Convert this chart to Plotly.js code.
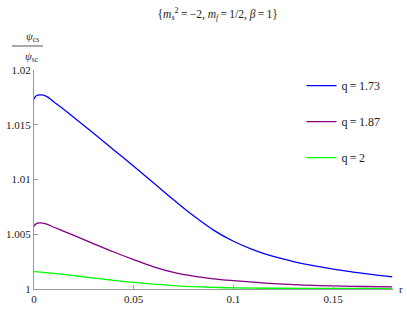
<!DOCTYPE html>
<html>
<head>
<meta charset="utf-8">
<script src="https://cdn.plot.ly/plotly-3.0.1.min.js"></script>
<style>html,body{margin:0;padding:0;background:#fff;}#chart{width:407px;height:311px;}</style>
</head>
<body>
<div id="chart"></div>
<script>
// r values and ratios
const rBlue   = [0, 0.001, 0.003, 0.006, 0.01, 0.015, 0.02, 0.03, 0.04, 0.05, 0.06, 0.07, 0.08, 0.09, 0.1, 0.11, 0.12, 0.13, 0.14, 0.15, 0.16, 0.17, 0.1796];
const vBlue   = [1.01733, 1.01762, 1.01772, 1.01762, 1.01708, 1.0164, 1.01567, 1.0142, 1.0127, 1.0112, 1.00968, 1.00815, 1.00668, 1.00538, 1.00436, 1.00358, 1.00297, 1.00251, 1.00213, 1.00181, 1.00155, 1.00131, 1.00111];
const rPurple = [0, 0.001, 0.003, 0.006, 0.01, 0.015, 0.02, 0.03, 0.04, 0.05, 0.06, 0.07, 0.08, 0.09, 0.1, 0.11, 0.12, 0.13, 0.14, 0.15, 0.165, 0.1796];
const vPurple = [1.00572, 1.00595, 1.00603, 1.00594, 1.00564, 1.00527, 1.00489, 1.00413, 1.00338, 1.00268, 1.00203, 1.00152, 1.00117, 1.00093, 1.00076, 1.00062, 1.0005, 1.0004, 1.00033, 1.00028, 1.00023, 1.0002];
const rGreen  = [0, 0.01, 0.02, 0.03, 0.04, 0.05, 0.06, 0.07, 0.08, 0.09, 0.1, 0.12, 0.15, 0.1796];
const vGreen  = [1.00159, 1.00142, 1.00122, 1.001, 1.00079, 1.0006, 1.00044, 1.00031, 1.00021, 1.00015, 1.0001, 1.00007, 1.00005, 1.00004];
const seriesNames = ["q\u2009=\u20091.73", "q\u2009=\u20091.87", "q\u2009=\u20092"];
const xTickVals = [0, 0.05, 0.1, 0.15];
const xTickText = ["0", "0.05", "0.1", "0.15"];
const yTickVals = [1, 1.005, 1.01, 1.015, 1.02];
const yTickText = ["1", "1.005", "1.01", "1.015", "1.02"];

const serif = "Liberation Serif";
const mk = (x, y, name, color, g) => ({
  x: x, y: y, name: name, type: "scatter", mode: "lines",
  line: {color: color, width: 1.3, shape: "spline", smoothing: 1},
  legendgroup: g, hoverinfo: "skip"
});
const data = [
  mk(rBlue, vBlue, seriesNames[0], "#0000ff", "a"),
  mk(rPurple, vPurple, seriesNames[1], "#800080", "b"),
  mk(rGreen, vGreen, seriesNames[2], "#00ff00", "c")
];
const axisCommon = {
  showgrid: false, zeroline: false, showline: true, linecolor: "#999", linewidth: 1,
  ticks: "inside", ticklen: 4, tickcolor: "#999", tickwidth: 1,
  tickfont: {family: serif, size: 11, color: "#222"}, tickmode: "array"
};
const layout = {
  width: 407, height: 311,
  font: {family: serif, size: 11, color: "#222"},
  margin: {l: 33.5, r: 13.5, t: 70, b: 21.5},
  paper_bgcolor: "#fff", plot_bgcolor: "#fff",
  title: {
    text: "{<i>m</i><sub><i>s</i></sub><sup>2</sup>\u2009=\u2009\u22122, <i>m</i><sub><i>f</i></sub>\u2009=\u20091/2, <i>\u03b2</i>\u2009=\u20091}",
    font: {family: serif, size: 11.5, color: "#222"}, x: 0.535, xanchor: "center", y: 0.955, yanchor: "middle"
  },
  xaxis: Object.assign({}, axisCommon, {range: [0, 0.18], tickvals: xTickVals, ticktext: xTickText}),
  yaxis: Object.assign({}, axisCommon, {range: [1, 1.02], tickvals: yTickVals, ticktext: yTickText}),
  showlegend: true,
  legend: {x: 0.745, y: 0.995, xanchor: "left", yanchor: "top", font: {family: serif, size: 12, color: "#222"},
           bgcolor: "rgba(0,0,0,0)", tracegroupgap: 17, itemwidth: 30},
  annotations: [
    {xref: "paper", yref: "paper", x: 1.0, y: 0, xanchor: "left", yanchor: "middle", xshift: 4, text: "r", showarrow: false,
     font: {family: serif, size: 11, color: "#222"}},
    {xref: "paper", yref: "paper", x: 0, y: 1, xanchor: "center", yanchor: "middle", xshift: -2, yshift: 33, text: "<i>\u03c8</i><sub>cs</sub>", showarrow: false,
     font: {family: serif, size: 11, color: "#222"}},
    {xref: "paper", yref: "paper", x: 0, y: 1, xanchor: "center", yanchor: "middle", xshift: -2, yshift: 13, text: "<i>\u03c8</i><sub>sc</sub>", showarrow: false,
     font: {family: serif, size: 11, color: "#222"}}
  ],
  shapes: [
    {type: "line", xref: "x domain", yref: "paper", xsizemode: "pixel", ysizemode: "pixel",
     xanchor: 0, yanchor: 1, x0: -22, x1: 9, y0: 24, y1: 24, line: {color: "#555", width: 1}}
  ]
};
Plotly.newPlot("chart", data, layout, {staticPlot: true, displayModeBar: false});
</script>
</body>
</html>
